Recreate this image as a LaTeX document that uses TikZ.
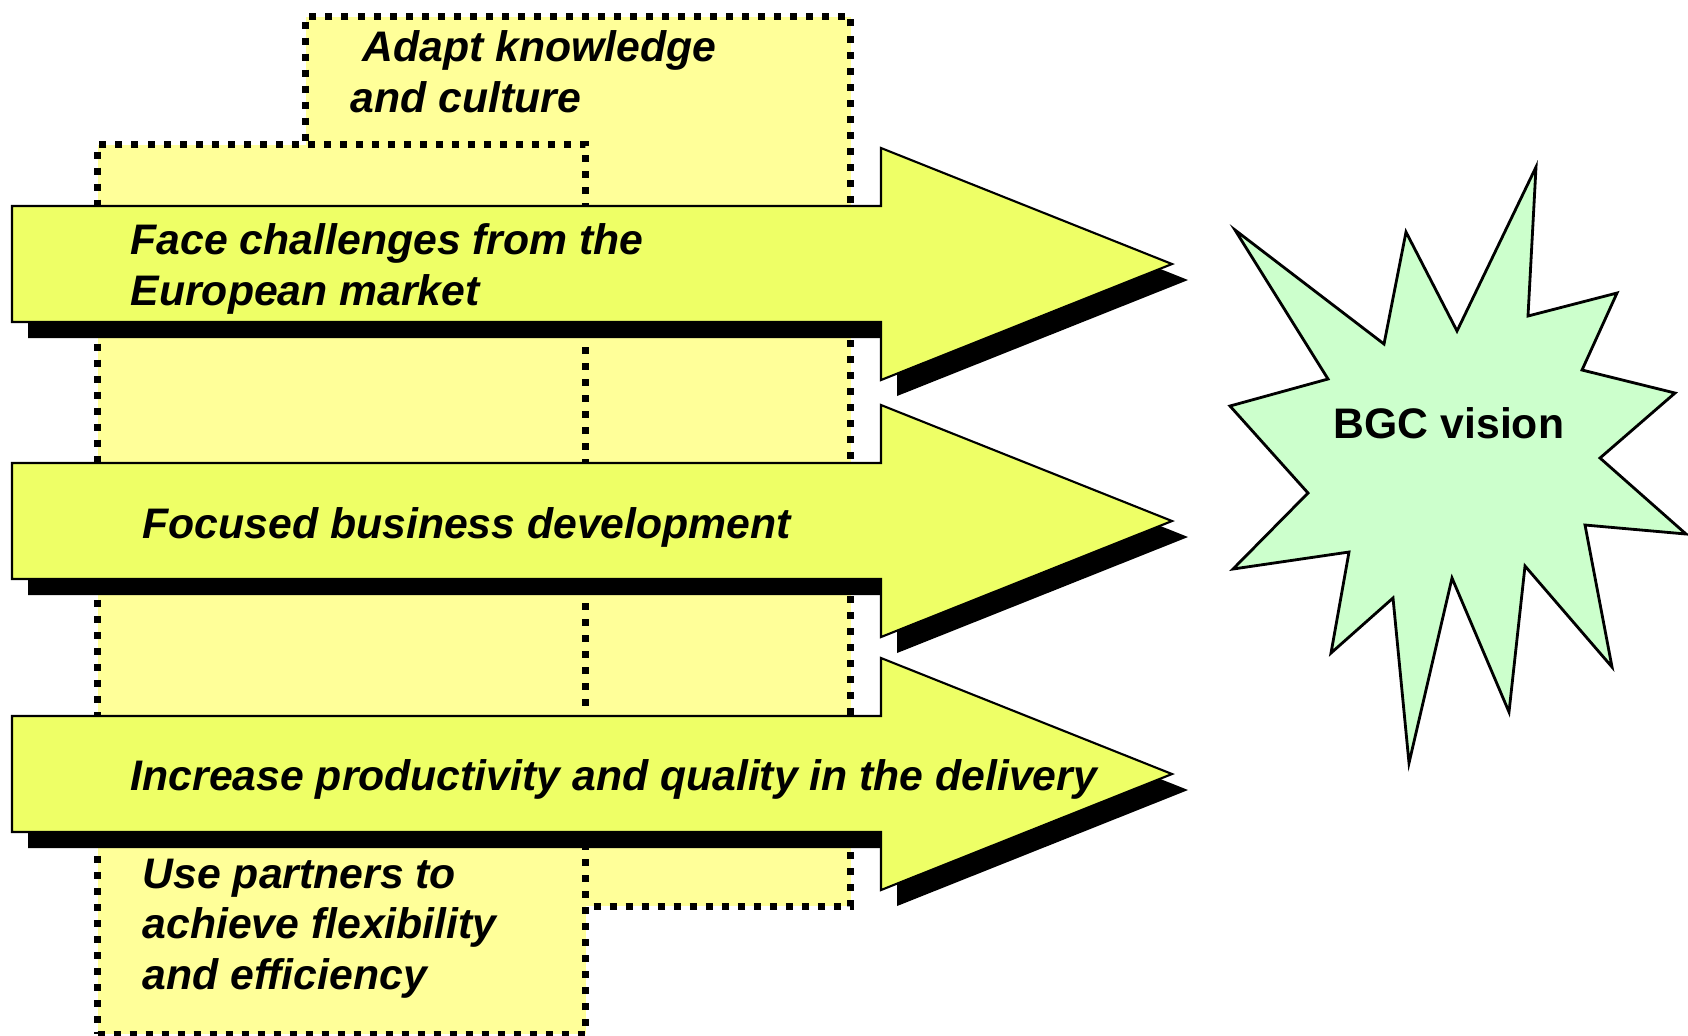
\documentclass[tikz,border=0pt]{standalone}
\usepackage{fontspec}
\setmainfont{Liberation Sans}
\usetikzlibrary{shadows}
\definecolor{boxyellow}{RGB}{255,255,153}
\definecolor{arrowyellow}{RGB}{238,255,102}
\definecolor{visiongreen}{RGB}{204,255,204}
\tikzset{
    %Define style for the dotted background boxes
    dotbox/.style={
           rectangle,
           draw=black,
           line width=0.07cm,
           dash pattern=on 0.07cm off 0.09cm,
           fill=boxyellow,
           inner sep=0pt,
           anchor=north west},
    %Define style for the big arrows
    bigarrow/.style={
           draw=black, semithick,
           fill=arrowyellow,
           drop shadow={fill=black, opacity=1,
                        shadow xshift=0.16cm, shadow yshift=-0.16cm}},
    %Define style for the star
    visionstar/.style={
           draw=black, line width=0.8pt,
           fill=visiongreen},
    %Define style for the texts (anchored on the last line)
    labeltext/.style={
           anchor=base west,
           inner sep=0pt,
           align=left,
           font=\fontsize{12.15}{14.3}\selectfont\bfseries\itshape},
    visiontext/.style={
           labeltext,
           anchor=base,
           font=\fontsize{12.15}{14.3}\selectfont\bfseries}
}
\def\arrowtail{12}
\def\arrowneck{881}
\def\arrowtip{1172}
\def\shafthalf{58}
\def\headhalf{116}
\newcommand{\bigarrow}[1]{%
  \draw[bigarrow] (\arrowtail,#1-\shafthalf) -- (\arrowneck,#1-\shafthalf) -- (\arrowneck,#1-\headhalf)
     -- (\arrowtip,#1) -- (\arrowneck,#1+\headhalf) -- (\arrowneck,#1+\shafthalf)
     -- (\arrowtail,#1+\shafthalf) -- cycle;}

\begin{document}
\begin{tikzpicture}[x=0.01cm, y=-0.01cm]
\useasboundingbox (0,0) rectangle (1688,1035);
\node[dotbox, minimum width=5.45cm, minimum height=8.89cm] (adapt) at (302,13) {};
\node[dotbox, minimum width=4.88cm, minimum height=8.89cm] (partners) at (94,141) {};
\bigarrow{264}
\bigarrow{521}
\bigarrow{774}
\node[labeltext] (adapttext) at (350,112) {\hspace*{0.12cm}Adapt knowledge\\and culture};
\node[labeltext] (europe) at (130,305) {Face challenges from the\\European market};
\node[labeltext] (business) at (142,538) {Focused business development};
\node[labeltext] (delivery) at (130,790) {Increase productivity and quality in the delivery};
\node[labeltext] (partnerstext) at (142,989) {Use partners to\\achieve flexibility\\and efficiency};
%\node[starburst] ...
\draw[visionstar] (1235,230) -- (1384,344) -- (1406,232) -- (1457,331) -- (1536,167) -- (1528,316)
  -- (1617,293) -- (1582,370) -- (1675,393) -- (1600,458) -- (1686,534) -- (1585,525)
  -- (1612,667) -- (1525,566) -- (1509,712) -- (1452,578) -- (1409,763) -- (1393,598)
  -- (1331,653) -- (1349,552) -- (1233,569) -- (1308,493) -- (1230,406) -- (1328,379) -- cycle;
\node[visiontext] (vision) at (1449,438) {BGC vision};
\end{tikzpicture}
\end{document}
